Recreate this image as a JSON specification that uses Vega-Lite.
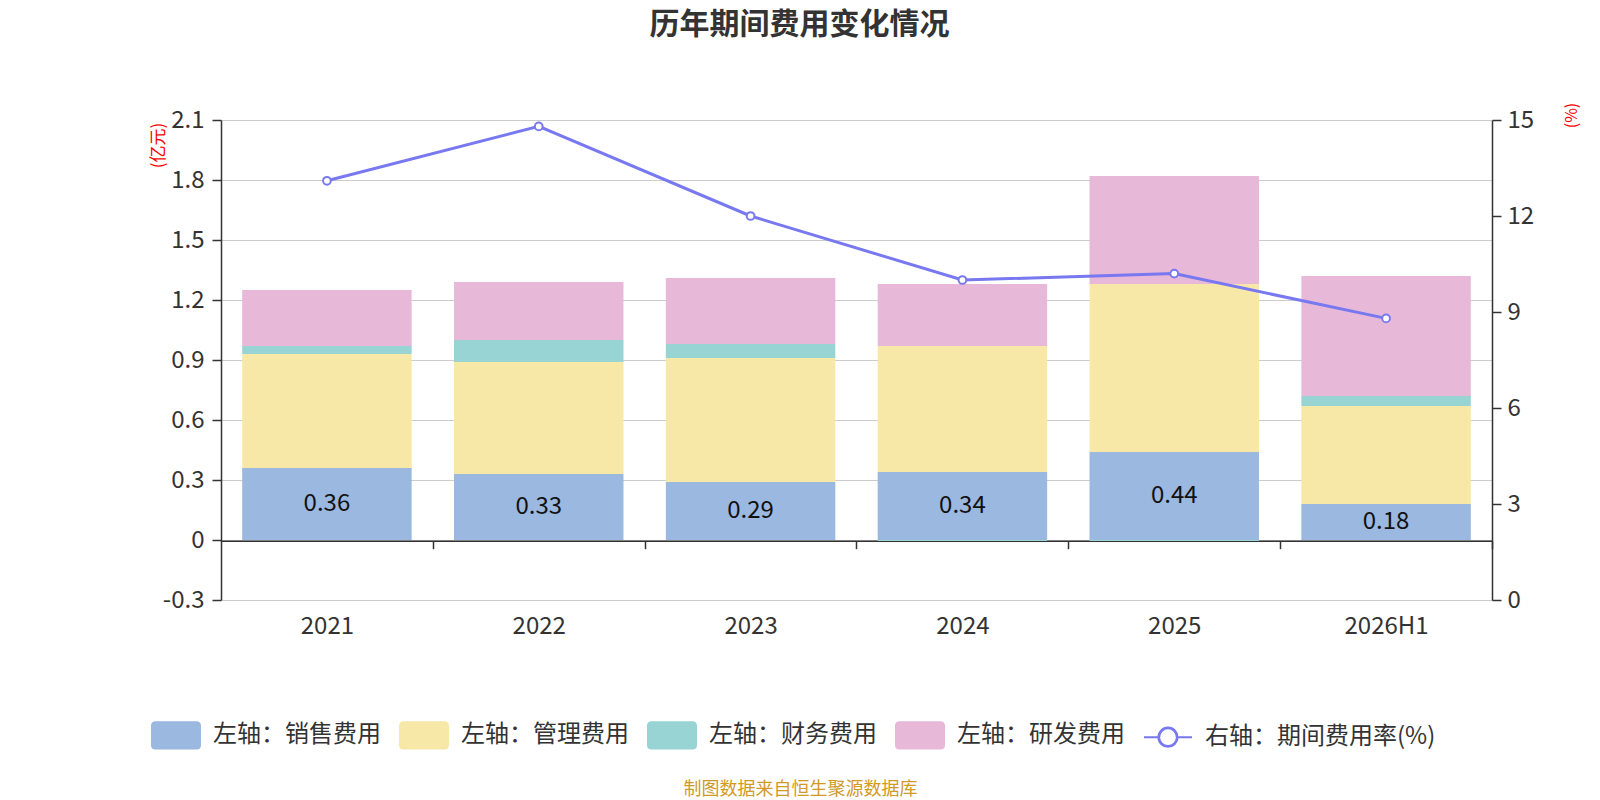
{
  "$schema": "https://vega.github.io/schema/vega-lite/v6.json",
  "autosize": "none",
  "width": 1271,
  "height": 480,
  "padding": {"left": 221, "top": 120, "right": 108, "bottom": 200},
  "background": "white",
  "title": {
    "text": "历年期间费用变化情况",
    "anchor": "middle",
    "frame": "group",
    "font": "Noto Sans CJK SC",
    "fontSize": 30,
    "fontWeight": "bold",
    "color": "#333333",
    "dx": -57,
    "offset": 62
  },
  "config": {
    "view": {"stroke": null},
    "font": "Noto Sans CJK SC",
    "axis": {
      "labelFont": "Noto Sans CJK SC",
      "titleFont": "Noto Sans CJK SC",
      "labelFontSize": 24,
      "labelColor": "#333333",
      "domainColor": "#333333",
      "tickColor": "#333333",
      "domainWidth": 1.5,
      "tickWidth": 1.5
    }
  },
  "datasets": {
    "costs": [
      {"year": "2021", "series": "左轴：销售费用", "k": 1, "value": 0.36},
      {"year": "2021", "series": "左轴：管理费用", "k": 2, "value": 0.57},
      {"year": "2021", "series": "左轴：财务费用", "k": 3, "value": 0.04},
      {"year": "2021", "series": "左轴：研发费用", "k": 4, "value": 0.28},
      {"year": "2022", "series": "左轴：销售费用", "k": 1, "value": 0.33},
      {"year": "2022", "series": "左轴：管理费用", "k": 2, "value": 0.56},
      {"year": "2022", "series": "左轴：财务费用", "k": 3, "value": 0.11},
      {"year": "2022", "series": "左轴：研发费用", "k": 4, "value": 0.29},
      {"year": "2023", "series": "左轴：销售费用", "k": 1, "value": 0.29},
      {"year": "2023", "series": "左轴：管理费用", "k": 2, "value": 0.62},
      {"year": "2023", "series": "左轴：财务费用", "k": 3, "value": 0.07},
      {"year": "2023", "series": "左轴：研发费用", "k": 4, "value": 0.33},
      {"year": "2024", "series": "左轴：销售费用", "k": 1, "value": 0.34},
      {"year": "2024", "series": "左轴：管理费用", "k": 2, "value": 0.63},
      {"year": "2024", "series": "左轴：财务费用", "k": 3, "value": -0.005},
      {"year": "2024", "series": "左轴：研发费用", "k": 4, "value": 0.31},
      {"year": "2025", "series": "左轴：销售费用", "k": 1, "value": 0.44},
      {"year": "2025", "series": "左轴：管理费用", "k": 2, "value": 0.84},
      {"year": "2025", "series": "左轴：财务费用", "k": 3, "value": -0.005},
      {"year": "2025", "series": "左轴：研发费用", "k": 4, "value": 0.54},
      {"year": "2026H1", "series": "左轴：销售费用", "k": 1, "value": 0.18},
      {"year": "2026H1", "series": "左轴：管理费用", "k": 2, "value": 0.49},
      {"year": "2026H1", "series": "左轴：财务费用", "k": 3, "value": 0.05},
      {"year": "2026H1", "series": "左轴：研发费用", "k": 4, "value": 0.60}
    ],
    "rate": [
      {"year": "2021", "rate": 13.1},
      {"year": "2022", "rate": 14.8},
      {"year": "2023", "rate": 12.0},
      {"year": "2024", "rate": 10.0},
      {"year": "2025", "rate": 10.2},
      {"year": "2026H1", "rate": 8.8}
    ]
  },
  "encoding": {
    "x": {
      "field": "year",
      "type": "nominal",
      "sort": null,
      "scale": {"paddingInner": 0.2, "paddingOuter": 0.1},
      "axis": {
        "title": "制图数据来自恒生聚源数据库",
        "titleFontSize": 18,
        "titleFontWeight": "normal",
        "titleColor": "#d09a28",
        "titleX": 579,
        "titleY": 249,
        "titleAnchor": null,
        "titleAlign": "center",
        "titleBaseline": "middle",
        "labelAngle": 0,
        "offset": -59.3,
        "tickOffset": 105.9,
        "labelOffset": -105.9,
        "tickSize": 8,
        "labelPadding": 66,
        "grid": false
      }
    }
  },
  "layer": [
    {
      "data": {"name": "costs"},
      "mark": {"type": "bar"},
      "encoding": {
        "y": {
          "field": "value",
          "type": "quantitative",
          "stack": "zero",
          "scale": {"domain": [-0.3, 2.1], "nice": false, "zero": false},
          "axis": {
            "title": "(亿元)",
            "titleColor": "red",
            "titleFontSize": 17,
            "titleFontWeight": "normal",
            "titleAngle": -90,
            "titleAlign": "center",
            "titleBaseline": "middle",
            "titleAnchor": null,
            "titleX": -63,
            "titleY": 25,
            "values": [-0.3, 0, 0.3, 0.6, 0.9, 1.2, 1.5, 1.8, 2.1],
            "labelExpr": "datum.value == 0 ? '0' : (datum.value < 0 ? '-' + format(-datum.value, '.1f') : format(datum.value, '.1f'))",
            "tickSize": 9,
            "labelPadding": 8,
            "gridColor": "#cccccc",
            "gridWidth": 1.2
          }
        },
        "color": {
          "field": "series",
          "type": "nominal",
          "scale": {
            "domain": ["左轴：销售费用", "左轴：管理费用", "左轴：财务费用", "左轴：研发费用", "右轴：期间费用率(%)"],
            "range": ["#9bb8e0", "#f8e8a8", "#98d4d4", "#e8b8d8", "#7878f0"]
          },
          "legend": {
            "title": null,
            "orient": "none",
            "direction": "horizontal",
            "columns": 5,
            "legendX": -70,
            "legendY": 590,
            "padding": 0,
            "labelFont": "Noto Sans CJK SC",
            "labelFontSize": 24,
            "labelColor": "#333333",
            "labelOffset": 12,
            "columnPadding": 15,
            "symbolSize": 2304,
            "symbolStrokeWidth": 2,
            "labelLimit": 400,
            "encode": {
              "symbols": {
                "update": {
                  "shape": {"signal": "datum.value == '右轴：期间费用率(%)' ? 'M-1,0H-0.4M0.4,0H1M-0.4,0A0.4,0.4 0 1,1 0.4,0A0.4,0.4 0 1,1 -0.4,0ZM-0.37,0A0.37,0.37 0 1,0 0.37,0A0.37,0.37 0 1,0 -0.37,0Z' : 'M-0.85,-0.55H0.85Q1,-0.55 1,-0.4V0.4Q1,0.55 0.85,0.55H-0.85Q-1,0.55 -1,0.4V-0.4Q-1,-0.55 -0.85,-0.55Z'"},
                  "fill": {"signal": "scale('color', datum.value)"},
                  "stroke": {"signal": "datum.value == '右轴：期间费用率(%)' ? '#7878f0' : null"},
                  "strokeWidth": {"value": 2},
                  "opacity": {"value": 1},
                  "fillOpacity": {"value": 1}
                }
              }
            }
          }
        },
        "order": {"field": "k", "type": "quantitative"}
      }
    },
    {
      "data": {"name": "costs"},
      "transform": [{"filter": "datum.k == 1"}],
      "mark": {"type": "text", "font": "Noto Sans CJK SC", "fontSize": 24, "color": "#111111", "baseline": "middle"},
      "encoding": {
        "y": {
          "field": "value",
          "type": "quantitative",
          "scale": {"domain": [-0.6, 4.2], "nice": false, "zero": false},
          "axis": null
        },
        "text": {"field": "value", "type": "quantitative", "format": ".2f"}
      }
    },
    {
      "data": {"name": "rate"},
      "layer": [
        {
          "mark": {"type": "line", "strokeWidth": 3, "color": "#7878f0"},
          "encoding": {
            "y": {
              "field": "rate",
              "type": "quantitative",
              "scale": {"domain": [0, 15], "nice": false},
              "axis": {
                "orient": "right",
                "title": "(%)",
                "titleColor": "red",
                "titleFontSize": 16,
                "titleFontWeight": "normal",
                "titleAngle": -90,
                "titleAlign": "center",
                "titleBaseline": "middle",
                "titleAnchor": null,
                "titleX": 79,
                "titleY": -5,
                "values": [0, 3, 6, 9, 12, 15],
                "tickSize": 9,
                "labelPadding": 6,
                "grid": false
              }
            },
            "color": {"datum": "右轴：期间费用率(%)"}
          }
        },
        {
          "mark": {"type": "point", "filled": true, "fill": "white", "stroke": "#7878f0", "strokeWidth": 2, "size": 60, "opacity": 1},
          "encoding": {
            "y": {"field": "rate", "type": "quantitative"}
          }
        }
      ]
    }
  ],
  "resolve": {"scale": {"y": "independent"}}
}
